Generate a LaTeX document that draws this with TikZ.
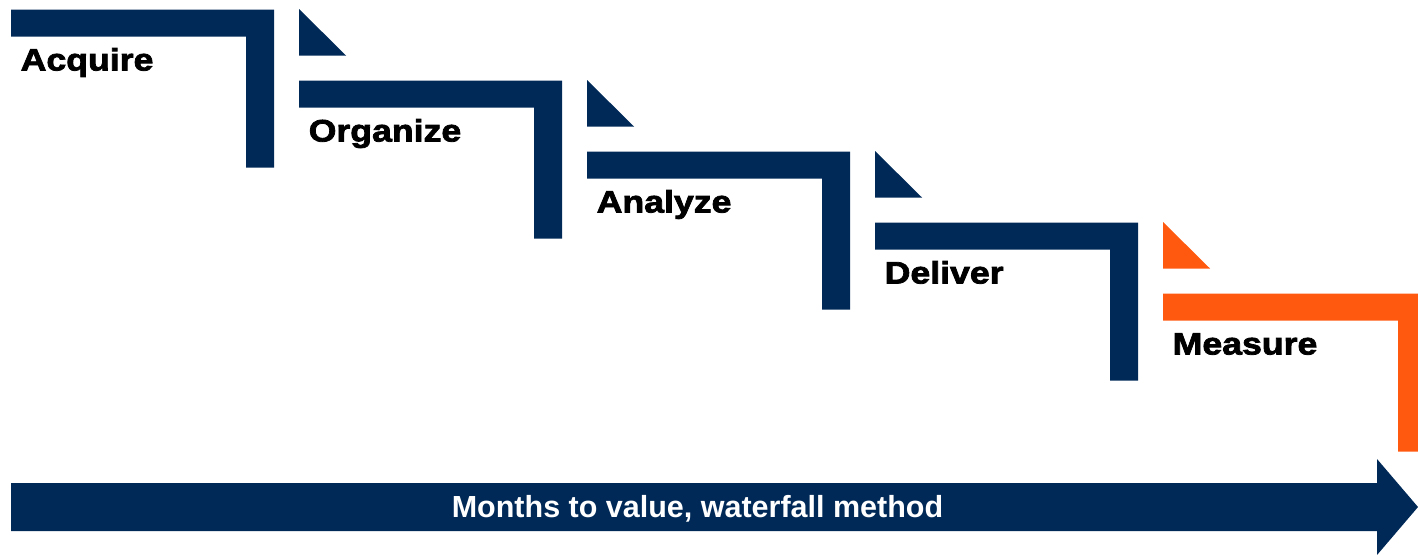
\documentclass[tikz,border=0pt]{standalone}
\usepackage{fontspec}
\setmainfont{Liberation Sans}
\newfontfamily\blackfont{Liberation Sans Bold}[FakeStretch=1.15,FakeBold=2.5]
\definecolor{navy}{RGB}{0,41,87}
\definecolor{orng}{RGB}{255,89,15}
\begin{document}
\begin{tikzpicture}[x=1pt,y=-1pt,
  steplabel/.style={anchor=base west,inner sep=0pt,font=\blackfont\fontsize{31}{31}\selectfont,text=black},
  arrowlabel/.style={anchor=base,inner sep=0pt,font=\bfseries\fontsize{30.5}{30.5}\selectfont,text=white}]
\useasboundingbox (0,0) rectangle (1418,554);
\clip (0,0) rectangle (1418,554);
% steps
\foreach \k/\lab/\col in {0/Acquire/navy,1/Organize/navy,2/Analyze/navy,3/Deliver/navy,4/Measure/orng}{
  \pgfmathsetmacro{\xa}{11+288*\k}
  \pgfmathsetmacro{\ya}{9.5+71*\k}
  \fill[\col] (\xa,\ya) -- ++(263,0) -- ++(0,158) -- ++(-28,0) -- ++(0,-131) -- ++(-235,0) -- cycle;
  \node[steplabel] (lab\k) at (\xa+9.5,\ya+61) {\lab};
  \ifnum\k>0
    \fill[\col] (\xa,\ya-71.5) -- (\xa,\ya-25) -- (\xa+47,\ya-25) -- cycle;
  \fi
}
% time arrow
\fill[navy] (11,483) -- (1377,483) -- (1377,459) -- (1418,507) -- (1377,555) -- (1377,531) -- (11,531) -- cycle;
\node[arrowlabel] (months) at (697.5,517) {Months to value, waterfall method};
\end{tikzpicture}
\end{document}
